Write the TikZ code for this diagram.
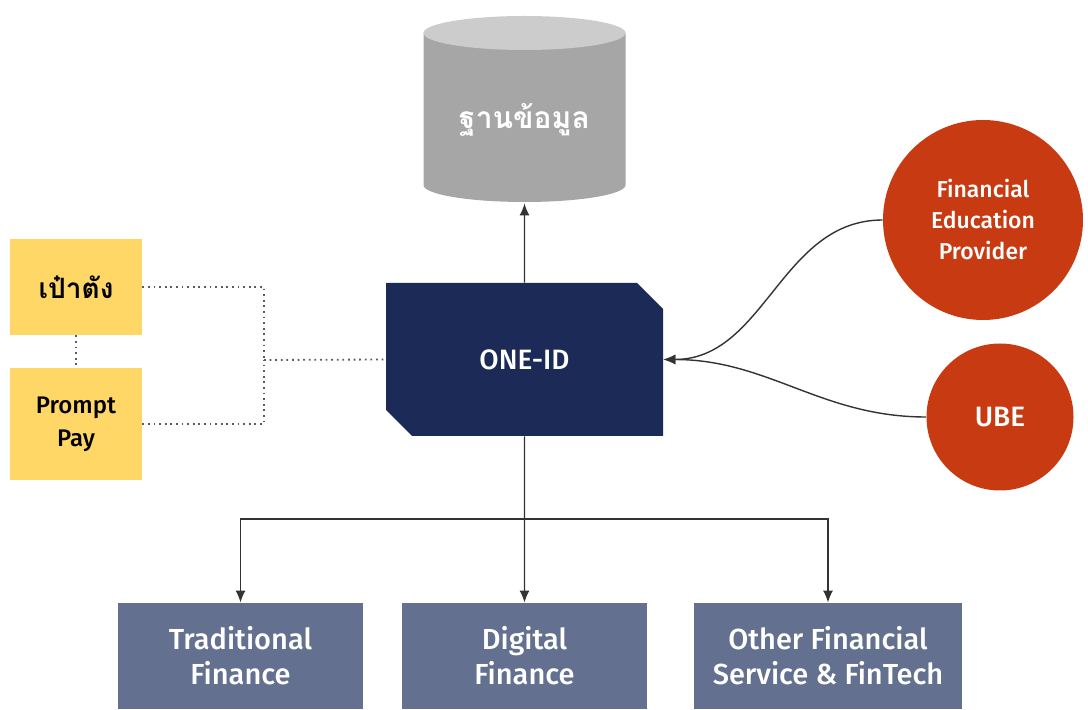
\documentclass[tikz,border=0pt]{standalone}
\usepackage{fontspec}
\setmainfont{Fira Sans Medium}
\newfontfamily\thaifont[Script=Thai]{Loma}
\usepackage{tikz}
\usetikzlibrary{shapes,arrows,arrows.meta,backgrounds}
\definecolor{iddark}{HTML}{1B2A56}
\definecolor{walletyellow}{HTML}{FED766}
\definecolor{provred}{HTML}{C83A12}
\definecolor{serviceblue}{HTML}{64708F}
\definecolor{dbbody}{HTML}{A6A6A6}
\definecolor{dbtop}{HTML}{CCCCCC}
\definecolor{linegray}{HTML}{333333}
\tikzstyle{hub} = [chamfered rectangle, chamfered rectangle corners={north east, south west},
	chamfered rectangle xsep=6.5pt, chamfered rectangle ysep=6.5pt,
	fill=iddark, text=white, minimum width=138.5pt, minimum height=76.5pt,
	font=\fontsize{14}{17}\selectfont]
\tikzstyle{dbase} = [rectangle, minimum width=101pt, minimum height=93pt,
	text height=22pt, text depth=3pt,
	text=white, font=\fontsize{15}{18}\selectfont]
\tikzstyle{wallet} = [rectangle, fill=walletyellow, minimum width=66pt,
	align=center, font=\fontsize{12}{16.5}\selectfont]
\tikzstyle{provider} = [circle, fill=provred, text=white, inner sep=0pt,
	align=center, font=\fontsize{11.5}{15.5}\selectfont]
\tikzstyle{service} = [rectangle, fill=serviceblue, text=white,
	minimum width=122.5pt, minimum height=53pt, align=center,
	font=\fontsize{14.5}{17.5}\selectfont]
\tikzstyle{line} = [draw=linegray, line width=0.7pt, -{Latex[length=6pt, width=5pt]}]
\tikzstyle{dotline} = [draw=linegray!80, line width=0.9pt, dash pattern=on 0.9pt off 1.9pt]

\begin{document}
\begin{tikzpicture}[x=0.5pt, y=-0.5pt, node distance=2cm]
	\useasboundingbox (0,0) rectangle (1088,710);

	% Place nodes
	\node [hub] (id) at (524.5,359.5) {ONE-ID};
	\node [dbase, above of=id, node distance=124.75pt] (db) {\thaifont\bfseries ฐานข้อมูล};
	\node [wallet, minimum height=48pt] (paotang) at (76,287) {\thaifont\bfseries\fontsize{14}{16}\selectfont เป๋าตัง};
	\node [wallet, minimum height=56pt, below of=paotang, node distance=68.5pt] (promptpay) {Prompt\\Pay};
	\node [provider, minimum size=100pt] (fep) at (983,220) {Financial\\Education\\Provider};
	\node [provider, minimum size=73.5pt, font=\fontsize{14}{17}\selectfont] (ube) at (1000,417) {UBE};
	\node [service, below of=id, node distance=148.25pt] (digital) {Digital\\Finance};
	\node [service, left of=digital, node distance=142pt] (traditional) {Traditional\\Finance};
	\node [service, minimum width=134pt, right of=digital, node distance=151.75pt] (other) {Other Financial\\Service \& FinTech};
	\coordinate (join) at (264,360);
	\coordinate (fork) at (524.5,519);

	% Cylinder behind the label
	\begin{scope}[on background layer, shift={(db.center)}]
		\fill [dbbody] (-50.5pt,38.5pt) -- (-50.5pt,-37.5pt)
			arc [start angle=180, end angle=360, x radius=50.5pt, y radius=8.5pt]
			-- (50.5pt,38.5pt) -- cycle;
		\fill [dbtop] (0pt,38.5pt) ellipse [x radius=50.5pt, y radius=8.5pt];
	\end{scope}

	% Draw edges
	\path [line] (id) -- (db);
	\path [dotline] (paotang.east) -| (join);
	\path [dotline] (promptpay.east) -| (join);
	\path [dotline] (join) -- (id.west);
	\path [dotline] (paotang) -- (promptpay);
	\path [line] (fep.west) to [out=180, in=0] (id.east);
	\path [line] (ube.west) to [out=180, in=0] (id.east);
	\path [line] (id) -- (digital);
	\path [line] (fork) -| (traditional);
	\path [line] (fork) -| (other);
\end{tikzpicture}
\end{document}
